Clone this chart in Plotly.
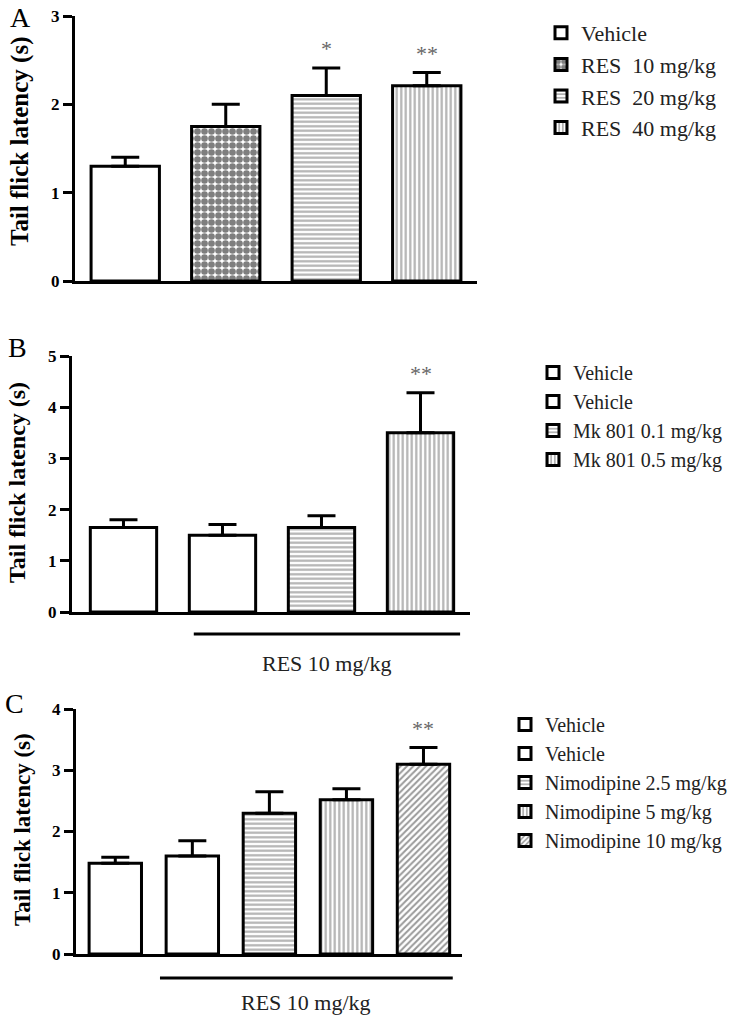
import plotly.graph_objects as go

W, H = 744, 1017
FONT = "Liberation Serif, Times New Roman, DejaVu Serif, serif"

# ---------------- data ----------------
A_labels = ["Vehicle", "RES\u00a0 10 mg/kg", "RES\u00a0 20 mg/kg", "RES\u00a0 40 mg/kg"]
A_mean = [1.30, 1.75, 2.10, 2.21]
A_sem = [0.10, 0.25, 0.31, 0.15]
A_sig = ["", "", "*", "**"]
A_pattern = ["", ".", "-", "|"]

B_labels = ["Vehicle", "Vehicle", "Mk 801 0.1 mg/kg", "Mk 801 0.5 mg/kg"]
B_mean = [1.65, 1.50, 1.65, 3.50]
B_sem = [0.15, 0.21, 0.23, 0.78]
B_sig = ["", "", "", "**"]
B_pattern = ["", "", "-", "|"]

C_labels = ["Vehicle", "Vehicle", "Nimodipine 2.5 mg/kg", "Nimodipine 5 mg/kg", "Nimodipine 10 mg/kg"]
C_mean = [1.48, 1.60, 2.30, 2.52, 3.10]
C_sem = [0.10, 0.25, 0.35, 0.18, 0.27]
C_sig = ["", "", "", "", "**"]
C_pattern = ["", "", "-", "|", "/"]

Y_TITLE = "Tail flick latency (s)"
GROUP_LABEL = "RES 10 mg/kg"


def px(x):
    return x / W


def py(y):
    return 1 - y / H


PATTERN_STYLE = {
    "": dict(shape=""),
    ".": dict(shape=".", size=7, solidity=0.7, fgcolor="black", bgcolor="white"),
    "-": dict(shape="-", size=4.5, solidity=0.5, fgcolor="#666", bgcolor="white"),
    "|": dict(shape="|", size=4.5, solidity=0.5, fgcolor="#666", bgcolor="white"),
    "/": dict(shape="/", size=4.5, solidity=0.45, fgcolor="#333", bgcolor="white"),
}

fig = go.Figure()

panels = [
    (A_labels, A_mean, A_sem, A_sig, A_pattern, "", "legend", 0.68),
    (B_labels, B_mean, B_sem, B_sig, B_pattern, "2", "legend2", 0.67),
    (C_labels, C_mean, C_sem, C_sig, C_pattern, "3", "legend3", 0.68),
]

annotations = []
for labels, mean, sem, sig, pat, sfx, leg, bw in panels:
    for i, (lab, m, s, p) in enumerate(zip(labels, mean, sem, pat)):
        fig.add_trace(go.Bar(
            x=[i], y=[m], name=lab, width=bw,
            xaxis="x" + sfx, yaxis="y" + sfx, legend=leg,
            marker=dict(color="white", line=dict(color="black", width=3),
                        pattern=PATTERN_STYLE[p]),
            error_y=dict(type="data", symmetric=False, array=[s], arrayminus=[0],
                         color="black", thickness=3, width=14),
            showlegend=True,
        ))
        if sig[i]:
            annotations.append(dict(
                x=i, y=m + s, xref="x" + sfx, yref="y" + sfx, text=sig[i],
                showarrow=False, yanchor="bottom", yshift=5,
                font=dict(family=FONT, size=22, color="#666"),
            ))

axis_common = dict(showgrid=False, zeroline=False, showline=True, linecolor="black",
                   linewidth=3, automargin=False)

geo = {
    "": dict(x0=75, x1=477, y0=16, y1=281, xr=[-0.5, 3.5], yr=[0, 3]),
    "2": dict(x0=72, x1=470, y0=356, y1=612, xr=[-0.52, 3.5], yr=[0, 5]),
    "3": dict(x0=76, x1=462, y0=709, y1=954, xr=[-0.51, 4.5], yr=[0, 4]),
}
layout = {}
for sfx, g in geo.items():
    layout["xaxis" + sfx] = dict(
        axis_common, domain=[px(g["x0"]), px(g["x1"])], range=g["xr"],
        showticklabels=False, ticks="", anchor="y" + sfx, fixedrange=True)
    layout["yaxis" + sfx] = dict(
        axis_common, domain=[py(g["y1"]), py(g["y0"])], range=g["yr"],
        dtick=1, ticks="outside", ticklen=9, tickwidth=3, tickcolor="black",
        tickfont=dict(family=FONT, size=17, color="black", weight="bold"),
        anchor="x" + sfx, fixedrange=True)

for (xc, yc, fs) in [(20, 141, 25), (17, 483, 24), (22, 830, 23)]:
    annotations.append(dict(
        x=px(xc), y=py(yc), xref="paper", yref="paper", text=Y_TITLE,
        textangle=-90, showarrow=False, xanchor="center", yanchor="middle",
        font=dict(family=FONT, size=fs, color="black", weight="bold")))

for (letter, xc, yc) in [("A", 20, 17), ("B", 17, 348), ("C", 14, 703)]:
    annotations.append(dict(
        x=px(xc), y=py(yc), xref="paper", yref="paper", text=letter,
        showarrow=False, xanchor="center", yanchor="middle",
        font=dict(family=FONT, size=28, color="black")))

shapes = []
for (sfx, ly, x_start, x_end, ty) in [("2", 634, 1 - 0.29, 3 + 0.4, 663),
                                       ("3", 978, 1 - 0.42, 4 + 0.38, 1002)]:
    shapes.append(dict(type="line", xref="x" + sfx, yref="paper",
                       x0=x_start, x1=x_end, y0=py(ly), y1=py(ly),
                       line=dict(color="black", width=3)))
    annotations.append(dict(
        x=(x_start + x_end) / 2, y=py(ty), xref="x" + sfx, yref="paper",
        text=GROUP_LABEL, showarrow=False, xanchor="center", yanchor="middle",
        font=dict(family=FONT, size=22, color="#222")))

legend_common = dict(bgcolor="rgba(0,0,0,0)", borderwidth=0, xanchor="left",
                     yanchor="top", traceorder="normal", itemclick=False,
                     itemdoubleclick=False)
layout["legend"] = dict(legend_common, x=px(541), y=py(12),
                        font=dict(family=FONT, size=22, color="#222"))
layout["legend2"] = dict(legend_common, x=px(533), y=py(353),
                         font=dict(family=FONT, size=20, color="#222"))
layout["legend3"] = dict(legend_common, x=px(505), y=py(705),
                         font=dict(family=FONT, size=20, color="#222"))

fig.update_layout(
    width=W, height=H,
    margin=dict(l=0, r=0, t=0, b=0, pad=0, autoexpand=False),
    paper_bgcolor="white", plot_bgcolor="white",
    barmode="overlay", bargap=0,
    annotations=annotations, shapes=shapes,
    **layout,
)

fig.write_html(
    "out.html",
    config={"displayModeBar": False, "staticPlot": True},
    post_script=("document.documentElement.style.margin='0';"
                 "document.documentElement.style.overflow='hidden';"
                 "document.body.style.margin='0';document.body.style.padding='0';"
                 "document.body.style.overflow='hidden';"),
)
